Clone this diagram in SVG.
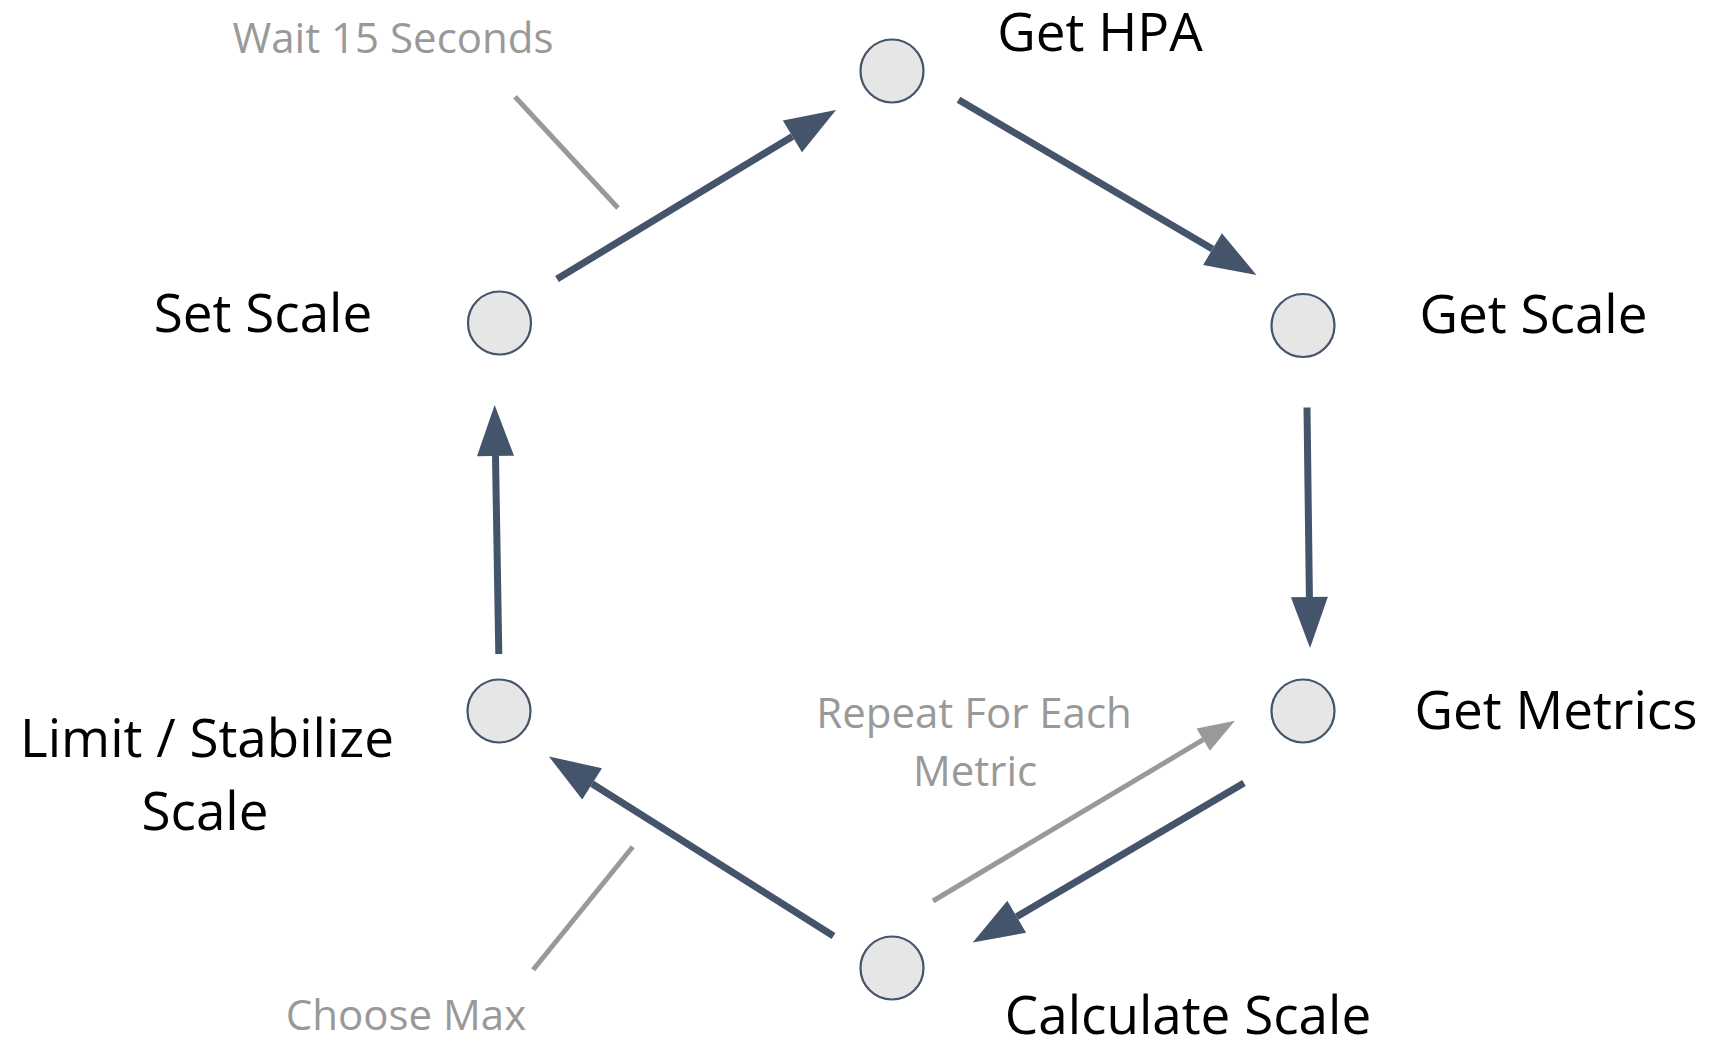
<svg xmlns="http://www.w3.org/2000/svg" width="1712" height="1040" viewBox="0 0 1712 1040">
<style>
.node circle{fill:#e6e6e6;stroke:#44546a;stroke-width:2.2}
.lbl{font-family:"Open Sans","Noto Sans","Liberation Sans",sans-serif;font-size:53px;fill:#000;text-anchor:middle}
.note{font-family:"Open Sans","Noto Sans","Liberation Sans",sans-serif;font-size:42px;fill:#999999;text-anchor:middle}
.flow{stroke:#44546a;stroke-width:7;fill:none;stroke-linecap:butt;marker-end:url(#headDark)}
.rep{stroke:#999999;stroke-width:5;fill:none;stroke-linecap:butt;marker-end:url(#headGray)}
.ptr{stroke:#999999;stroke-width:5;fill:none;stroke-linecap:butt}
</style>
<defs>
<marker id="headDark" markerUnits="userSpaceOnUse" markerWidth="52" markerHeight="38" refX="0" refY="18.5" orient="auto" overflow="visible">
<path d="M0,0 L51,18.5 L0,37 Z" fill="#44546a"/>
</marker>
<marker id="headGray" markerUnits="userSpaceOnUse" markerWidth="38" markerHeight="27" refX="0" refY="13" orient="auto" overflow="visible">
<path d="M0,0 L37,13 L0,26 Z" fill="#999999"/>
</marker>
</defs>
<rect width="1712" height="1040" fill="#ffffff"/>
<g id="connectors">
<line id="e-set-hpa" class="flow" x1="557" y1="279" x2="792.4" y2="136.4"/>
<line id="e-hpa-getscale" class="flow" x1="958.5" y1="99.7" x2="1212.5" y2="249.1"/>
<line id="e-getscale-metrics" class="flow" x1="1307" y1="407.5" x2="1309.4" y2="597"/>
<line id="e-metrics-calc" class="flow" x1="1244" y1="783" x2="1016.7" y2="916.7"/>
<line id="e-calc-limit" class="flow" x1="833.5" y1="936" x2="592.1" y2="783.8"/>
<line id="e-limit-set" class="flow" x1="498.8" y1="654" x2="495.5" y2="456"/>
<line id="e-repeat" class="rep" x1="933" y1="901" x2="1203.2" y2="739.7"/>
<line id="p-wait" class="ptr" x1="515" y1="96.7" x2="618" y2="208"/>
<line id="p-max" class="ptr" x1="632.8" y1="846.8" x2="533.2" y2="969.8"/>
</g>
<g id="node-get-hpa" class="node">
<circle cx="892" cy="71" r="31.5"/>
<text class="lbl" x="1100" y="51">Get HPA</text>
</g>
<g id="node-get-scale" class="node">
<circle cx="1303" cy="325.5" r="31.5"/>
<text class="lbl" x="1533.5" y="333">Get Scale</text>
</g>
<g id="node-get-metrics" class="node">
<circle cx="1303" cy="711" r="31.5"/>
<text class="lbl" x="1556" y="729">Get Metrics</text>
</g>
<g id="node-calculate-scale" class="node">
<circle cx="892" cy="968" r="31.5"/>
<text class="lbl" x="1188" y="1034">Calculate Scale</text>
</g>
<g id="node-limit" class="node">
<circle cx="499" cy="711" r="31.5"/>
<text class="lbl" x="207" y="757">Limit / Stabilize</text>
<text class="lbl" x="205" y="830">Scale</text>
</g>
<g id="node-set-scale" class="node">
<circle cx="499.5" cy="323" r="31.5"/>
<text class="lbl" x="263" y="332">Set Scale</text>
</g>
<g id="notes">
<text class="note" x="393" y="53">Wait 15 Seconds</text>
<text class="note" x="974" y="728">Repeat For Each</text>
<text class="note" x="975" y="786">Metric</text>
<text class="note" x="406" y="1030">Choose Max</text>
</g>
</svg>
